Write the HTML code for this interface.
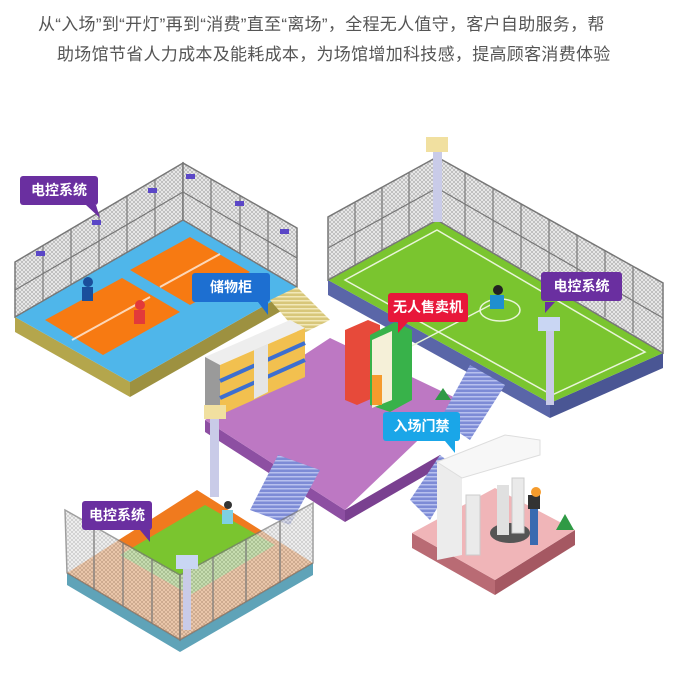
<!DOCTYPE html>
<html><head><meta charset="utf-8"><style>
html,body{margin:0;padding:0;background:#fff;width:679px;height:679px;overflow:hidden}
.t{position:absolute;font-family:"Liberation Sans","Noto Sans CJK SC",sans-serif;font-size:17px;color:#555;white-space:nowrap;letter-spacing:0.3px}
.lab{position:absolute;font-family:"Liberation Sans","Noto Sans CJK SC",sans-serif;font-size:14px;font-weight:bold;color:#fff;text-align:center;border-radius:3px;line-height:29px;height:29px}
</style></head><body>
<div class="t" style="left:38px;top:10px">从“入场”到“开灯”再到“消费”直至“离场”，全程无人值守，客户自助服务，帮</div>
<div class="t" style="left:57px;top:40px">助场馆节省人力成本及能耗成本，为场馆增加科技感，提高顾客消费体验</div>
<svg width="679" height="679" style="position:absolute;left:0;top:0">
<defs>
<pattern id="mesh" width="4" height="4" patternUnits="userSpaceOnUse"><rect width="4" height="4" fill="#ececec"/><path d="M0 0L4 4M4 0L0 4" stroke="#a8a8a8" stroke-width="0.6"/></pattern>
<pattern id="stair" width="6" height="4" patternUnits="userSpaceOnUse"><rect width="6" height="4" fill="#7d8bd6"/><rect y="0" width="6" height="1.5" fill="#b7c0ee"/></pattern>
<pattern id="stairy" width="6" height="4" patternUnits="userSpaceOnUse"><rect width="6" height="4" fill="#d8c77a"/><rect width="6" height="1.5" fill="#f2e8b8"/></pattern>
</defs>
<!-- badminton -->
<polygon points="15,317 130,382 130,397 15,332" fill="#b4a64c"/>
<polygon points="130,382 297,287 297,302 130,397" fill="#9d9140"/>
<polygon points="15,317 183,220 297,287 130,382" fill="#4fb6ea"/>
<polygon points="45,320 122,278 180,312 103,355" fill="#f77a12"/>
<polygon points="130,270 190,237 250,272 190,305" fill="#f77a12"/>
<line x1="72" y1="340" x2="150" y2="297" stroke="#fff" stroke-width="2" opacity=".7"/>
<line x1="160" y1="287" x2="220" y2="254" stroke="#fff" stroke-width="2" opacity=".7"/>
<polygon points="15,317 15,262 183,163 183,220" fill="url(#mesh)" stroke="#777" stroke-width="1.5"/>
<polygon points="183,220 183,163 297,228 297,287" fill="url(#mesh)" stroke="#777" stroke-width="1.5"/>
<g stroke="#777" stroke-width="1.2"><line x1="43" y1="246" x2="43" y2="301"/><line x1="71" y1="229" x2="71" y2="285"/><line x1="99" y1="213" x2="99" y2="269"/><line x1="127" y1="196" x2="127" y2="252"/><line x1="155" y1="180" x2="155" y2="236"/><line x1="211" y1="179" x2="211" y2="236"/><line x1="240" y1="195" x2="240" y2="253"/><line x1="268" y1="211" x2="268" y2="270"/><line x1="15" y1="290" x2="183" y2="192"/><line x1="183" y1="192" x2="297" y2="258"/></g>
<g fill="#5b47c7"><rect x="36" y="251" width="9" height="5"/><rect x="92" y="220" width="9" height="5"/><rect x="148" y="188" width="9" height="5"/><rect x="186" y="174" width="9" height="5"/><rect x="235" y="201" width="9" height="5"/><rect x="280" y="229" width="9" height="5"/></g>
<circle cx="88" cy="282" r="5" fill="#1a4f9c"/><rect x="82" y="287" width="11" height="14" fill="#1a4f9c"/>
<circle cx="140" cy="305" r="5" fill="#e23a3a"/><rect x="134" y="310" width="11" height="14" fill="#e23a3a"/>
<!-- stairs yellow -->
<polygon points="270,300 297,287 330,320 300,335" fill="url(#stairy)"/>
<!-- football -->
<polygon points="328,280 550,403 550,418 328,295" fill="#5a66a8"/>
<polygon points="550,403 663,353 663,368 550,418" fill="#4a5694"/>
<polygon points="328,280 437,220 663,353 550,403" fill="#7ac52f"/>
<polygon points="345,280 437,230 645,352 552,395" fill="none" stroke="#e9f5d8" stroke-width="1.5"/>
<line x1="500" y1="300" x2="400" y2="352" stroke="#e9f5d8" stroke-width="1.5"/>
<ellipse cx="500" cy="310" rx="20" ry="11" fill="none" stroke="#e9f5d8" stroke-width="1.5"/>
<polygon points="328,280 328,217 437,157 437,220" fill="url(#mesh)" stroke="#777" stroke-width="1.5"/>
<polygon points="437,220 437,157 663,283 663,353" fill="url(#mesh)" stroke="#777" stroke-width="1.5"/>
<g stroke="#777" stroke-width="1.2"><line x1="355" y1="202" x2="355" y2="265"/><line x1="382" y1="187" x2="382" y2="250"/><line x1="409" y1="172" x2="409" y2="235"/><line x1="465" y1="173" x2="465" y2="236"/><line x1="493" y1="188" x2="493" y2="252"/><line x1="521" y1="204" x2="521" y2="268"/><line x1="549" y1="219" x2="549" y2="284"/><line x1="577" y1="235" x2="577" y2="300"/><line x1="605" y1="251" x2="605" y2="317"/><line x1="633" y1="266" x2="633" y2="333"/><line x1="328" y1="248" x2="437" y2="188"/><line x1="437" y1="188" x2="663" y2="318"/></g>
<rect x="433" y="150" width="9" height="72" fill="#c9cbe8"/><rect x="426" y="137" width="22" height="15" fill="#f1e0a0"/>
<rect x="546" y="330" width="8" height="75" fill="#c9cbe8"/><rect x="538" y="317" width="22" height="14" fill="#c9d6f3"/>
<circle cx="498" cy="290" r="5" fill="#222"/><rect x="490" y="295" width="14" height="14" fill="#1f8fd0"/>
<!-- purple platform -->
<polygon points="205,420 345,510 345,522 205,432" fill="#8d4fa2"/>
<polygon points="345,510 440,455 440,467 345,522" fill="#7a4090"/>
<polygon points="205,420 330,338 460,400 345,510" fill="#bd78c3"/>
<!-- stairs -->
<polygon points="250,510 278,455 320,470 290,525" fill="url(#stair)"/>
<polygon points="440,420 470,365 505,385 470,440" fill="url(#stair)"/>
<polygon points="410,500 440,455 460,470 430,520" fill="url(#stair)"/>
<!-- lockers -->
<polygon points="205,357 290,320 305,328 220,365" fill="#eee"/>
<polygon points="205,357 220,365 220,415 205,407" fill="#9a9a9a"/>
<polygon points="220,365 305,328 305,377 220,415" fill="#f2c04f"/>
<g stroke="#3d6fd0" stroke-width="4"><line x1="220" y1="381" x2="305" y2="343"/><line x1="220" y1="398" x2="305" y2="360"/></g>
<polygon points="254,350 268,344 268,392 254,399" fill="#e5e5e5"/>
<rect x="204" y="405" width="22" height="14" fill="#f1e0a0"/>
<rect x="210" y="419" width="9" height="78" fill="#c9cbe8"/>
<!-- vending -->
<polygon points="345,330 368,320 380,325 380,395 357,405 345,400" fill="#e74a3a"/>
<polygon points="370,335 395,322 412,330 412,400 390,412 370,405" fill="#38b24a"/>
<polygon points="372,340 392,331 392,400 372,408" fill="#f5f0d8"/>
<rect x="372" y="375" width="10" height="30" fill="#f59b2c"/>
<path d="M435 400 l8 -12 l8 12 z" fill="#2f9a45"/>
<!-- basketball -->
<polygon points="67,573 180,640 313,563 313,575 180,652 67,585" fill="#5fa3b8"/>
<polygon points="67,573 197,490 313,563 180,640" fill="#f07a1e"/>
<polygon points="120,555 205,505 275,545 190,595" fill="#7ac52f"/>
<polygon points="65,510 180,575 180,640 67,573" fill="url(#mesh)" stroke="#777" stroke-width="1.5" opacity=".7"/>
<polygon points="180,575 313,503 313,563 180,640" fill="url(#mesh)" stroke="#777" stroke-width="1.5" opacity=".7"/>
<g stroke="#777" stroke-width="1.2"><line x1="94" y1="527" x2="94" y2="590"/><line x1="123" y1="543" x2="123" y2="606"/><line x1="152" y1="559" x2="152" y2="623"/><line x1="213" y1="557" x2="213" y2="621"/><line x1="246" y1="539" x2="246" y2="602"/><line x1="280" y1="521" x2="280" y2="583"/></g>
<rect x="183" y="555" width="8" height="75" fill="#c9cbe8"/><rect x="176" y="555" width="22" height="14" fill="#c9d6f3"/>
<circle cx="228" cy="505" r="4" fill="#333"/><rect x="222" y="510" width="11" height="14" fill="#7ed0e3"/>
<!-- gate -->
<polygon points="412,533 495,580 495,595 412,548" fill="#b96b74"/>
<polygon points="495,580 575,530 575,545 495,595" fill="#a55862"/>
<polygon points="412,533 495,488 575,530 495,580" fill="#f0b5b8"/>
<ellipse cx="510" cy="533" rx="20" ry="10" fill="#555"/>
<rect x="497" y="485" width="12" height="50" fill="#e0e0e0"/>
<rect x="466" y="495" width="14" height="60" fill="#eaeaea" stroke="#ccc"/>
<rect x="512" y="478" width="12" height="55" fill="#eaeaea" stroke="#ccc"/>
<polygon points="437,462 437,560 462,555 462,475" fill="#ececec"/>
<polygon points="437,462 505,435 540,440 540,455 462,478" fill="#f7f7f7" stroke="#ddd"/>
<rect x="530" y="505" width="8" height="40" fill="#3a6ab0"/><rect x="528" y="495" width="12" height="14" fill="#333"/><circle cx="536" cy="492" r="5" fill="#f59b2c"/>
<path d="M556 530 l9 -16 l9 16 z" fill="#2f9a45"/>
<!-- label pointers -->
<polygon points="86,205 96,205 100,218" fill="#6a2fa0"/>
<polygon points="258,302 268,302 268,315" fill="#1d6fd1"/>
<polygon points="398,322 408,322 398,333" fill="#e8173a"/>
<polygon points="545,302 555,302 545,313" fill="#6a2fa0"/>
<polygon points="445,441 455,441 455,453" fill="#1aa6e8"/>
<polygon points="140,530 150,530 150,542" fill="#6a2fa0"/>
</svg>
<div class="lab" style="left:20px;top:176px;width:78px;background:#6a2fa0">电控系统</div>
<div class="lab" style="left:192px;top:273px;width:78px;background:#1d6fd1">储物柜</div>
<div class="lab" style="left:388px;top:293px;width:80px;background:#e8173a">无人售卖机</div>
<div class="lab" style="left:541px;top:272px;width:81px;background:#6a2fa0">电控系统</div>
<div class="lab" style="left:383px;top:412px;width:77px;background:#1aa6e8">入场门禁</div>
<div class="lab" style="left:82px;top:501px;width:70px;background:#6a2fa0">电控系统</div>
</body></html>
